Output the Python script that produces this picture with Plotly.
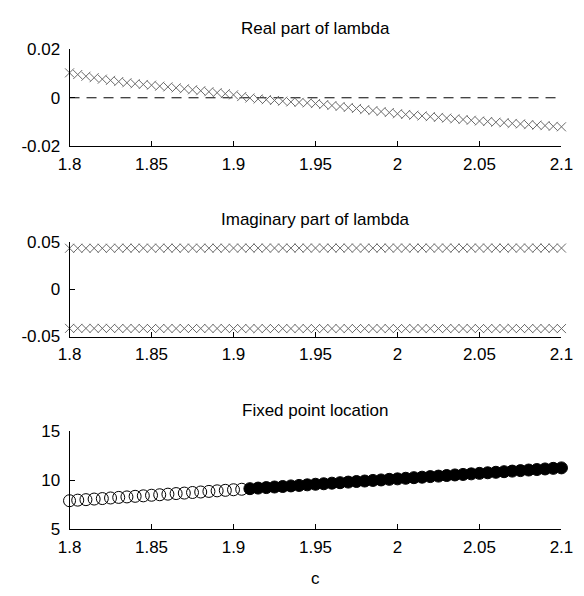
import plotly.graph_objects as go

c_vals = [1.800, 1.805, 1.810, 1.815, 1.820, 1.825, 1.830, 1.835, 1.840, 1.845,
          1.850, 1.855, 1.860, 1.865, 1.870, 1.875, 1.880, 1.885, 1.890, 1.895,
          1.900, 1.905, 1.910, 1.915, 1.920, 1.925, 1.930, 1.935, 1.940, 1.945,
          1.950, 1.955, 1.960, 1.965, 1.970, 1.975, 1.980, 1.985, 1.990, 1.995,
          2.000, 2.005, 2.010, 2.015, 2.020, 2.025, 2.030, 2.035, 2.040, 2.045,
          2.050, 2.055, 2.060, 2.065, 2.070, 2.075, 2.080, 2.085, 2.090, 2.095,
          2.100]

real_lambda = [0.0103, 0.0096, 0.0089, 0.0083, 0.0077, 0.0072, 0.0067, 0.0062, 0.0058, 0.0055,
               0.0052, 0.0048, 0.0045, 0.0041, 0.0037, 0.0033, 0.0029, 0.0025, 0.0021, 0.0017,
               0.0012, 0.0005, -0.0001, -0.0005, -0.0008, -0.0011, -0.0014, -0.0017, -0.0019, -0.0021,
               -0.0024, -0.0028, -0.0032, -0.0036, -0.0040, -0.0044, -0.0049, -0.0053, -0.0057, -0.0061,
               -0.0066, -0.0069, -0.0072, -0.0075, -0.0078, -0.0081, -0.0084, -0.0087, -0.0090, -0.0093,
               -0.0096, -0.0098, -0.0101, -0.0103, -0.0106, -0.0108, -0.0111, -0.0113, -0.0115, -0.0118,
               -0.0120]

imag_upper = [0.0434, 0.0434, 0.0434, 0.0434, 0.0434, 0.0434, 0.0435, 0.0435, 0.0435, 0.0435,
              0.0435, 0.0435, 0.0435, 0.0435, 0.0435, 0.0435, 0.0435, 0.0435, 0.0435, 0.0435,
              0.0436, 0.0436, 0.0436, 0.0436, 0.0436, 0.0436, 0.0436, 0.0436, 0.0436, 0.0436,
              0.0436, 0.0436, 0.0436, 0.0436, 0.0436, 0.0436, 0.0436, 0.0436, 0.0436, 0.0436,
              0.0436, 0.0436, 0.0436, 0.0436, 0.0436, 0.0436, 0.0436, 0.0436, 0.0436, 0.0436,
              0.0436, 0.0436, 0.0436, 0.0436, 0.0436, 0.0436, 0.0436, 0.0436, 0.0436, 0.0436,
              0.0436]
imag_lower = [-0.0414, -0.0414, -0.0414, -0.0414, -0.0414, -0.0414, -0.0415, -0.0415, -0.0415, -0.0415,
              -0.0415, -0.0415, -0.0415, -0.0415, -0.0415, -0.0415, -0.0415, -0.0415, -0.0415, -0.0415,
              -0.0416, -0.0416, -0.0416, -0.0416, -0.0416, -0.0416, -0.0416, -0.0416, -0.0416, -0.0416,
              -0.0416, -0.0416, -0.0416, -0.0416, -0.0416, -0.0416, -0.0416, -0.0416, -0.0416, -0.0416,
              -0.0416, -0.0416, -0.0416, -0.0416, -0.0416, -0.0416, -0.0416, -0.0416, -0.0416, -0.0416,
              -0.0416, -0.0416, -0.0416, -0.0416, -0.0416, -0.0416, -0.0416, -0.0416, -0.0416, -0.0416,
              -0.0416]

fixed_point = [7.90, 7.96, 8.01, 8.07, 8.12, 8.18, 8.24, 8.29, 8.35, 8.40,
               8.46, 8.51, 8.57, 8.63, 8.68, 8.74, 8.79, 8.85, 8.91, 8.96,
               9.02, 9.07, 9.13, 9.19, 9.24, 9.30, 9.35, 9.41, 9.46, 9.52,
               9.58, 9.63, 9.69, 9.74, 9.80, 9.86, 9.91, 9.97, 10.02, 10.08,
               10.13, 10.19, 10.25, 10.30, 10.36, 10.41, 10.47, 10.53, 10.58, 10.64,
               10.69, 10.75, 10.80, 10.86, 10.92, 10.97, 11.03, 11.08, 11.14, 11.20,
               11.25]
n_unstable = 22  # first points plotted as open circles

x_ticks = [1.8, 1.85, 1.9, 1.95, 2.0, 2.05, 2.1]
x_ticktext = ["1.8", "1.85", "1.9", "1.95", "2", "2.05", "2.1"]
titles = ["Real part of lambda", "Imaginary part of lambda", "Fixed point location"]
y_ticks = [[-0.02, 0, 0.02], [-0.05, 0, 0.05], [5, 10, 15]]
y_ticktext = [["-0.02", "0", "0.02"], ["-0.05", "0", "0.05"], ["5", "10", "15"]]
y_ranges = [[-0.02, 0.02], [-0.05, 0.05], [5, 15]]

FONT = "Liberation Sans, Arial, sans-serif"
FS = 17
W, H = 584, 596

fig = go.Figure()

xmark = dict(symbol="x-thin", size=9, line=dict(color="#6a6a6a", width=1))

# panel 1
fig.add_trace(go.Scatter(x=[c_vals[0], c_vals[-1]], y=[0, 0], mode="lines",
                         line=dict(color="black", width=1, dash="10px,7px"),
                         xaxis="x", yaxis="y", showlegend=False))
fig.add_trace(go.Scatter(x=c_vals, y=real_lambda, mode="markers", marker=xmark,
                         xaxis="x", yaxis="y", showlegend=False, cliponaxis=False))
# panel 2
fig.add_trace(go.Scatter(x=c_vals, y=imag_upper, mode="markers", marker=xmark,
                         xaxis="x2", yaxis="y2", showlegend=False, cliponaxis=False))
fig.add_trace(go.Scatter(x=c_vals, y=imag_lower, mode="markers", marker=xmark,
                         xaxis="x2", yaxis="y2", showlegend=False, cliponaxis=False))
# panel 3
fig.add_trace(go.Scatter(x=c_vals[:n_unstable], y=fixed_point[:n_unstable], mode="markers",
                         marker=dict(symbol="circle-open", size=12, color="black",
                                     line=dict(color="black", width=1)),
                         xaxis="x3", yaxis="y3", showlegend=False, cliponaxis=False))
fig.add_trace(go.Scatter(x=c_vals[n_unstable:], y=fixed_point[n_unstable:], mode="markers",
                         marker=dict(symbol="circle", size=12, color="black",
                                     line=dict(color="black", width=1)),
                         xaxis="x3", yaxis="y3", showlegend=False, cliponaxis=False))

# pixel layout (top, bottom) of each plot area
panels_px = [(41.7, 141.7), (240.7, 338.3), (436.0, 537.3)]
title_px = [20.0, 217.0, 415.0]
x0_px, x1_px = 60.0, 573.0

layout = dict(width=W, height=H, margin=dict(l=0, r=0, t=0, b=0),
              paper_bgcolor="white", plot_bgcolor="white",
              font=dict(family=FONT, size=FS, color="black"))

annotations = []
for i, (top, bot) in enumerate(panels_px):
    sfx = "" if i == 0 else str(i + 1)
    layout["xaxis" + sfx] = dict(
        domain=[x0_px / W, x1_px / W], range=[1.8, 2.1], anchor="y" + sfx,
        showline=True, linecolor="black", linewidth=1, mirror=False,
        ticks="inside", ticklen=5, tickcolor="black", tickwidth=1,
        tickvals=x_ticks, ticktext=x_ticktext, showgrid=False, zeroline=False,
        ticklabeloverflow="allow", ticklabelstandoff=2,
        tickfont=dict(family=FONT, size=FS, color="black"))
    layout["yaxis" + sfx] = dict(
        domain=[1 - bot / H, 1 - top / H], range=y_ranges[i], anchor="x" + sfx,
        showline=True, linecolor="black", linewidth=1, mirror=False,
        ticks="inside", ticklen=5, tickcolor="black", tickwidth=1,
        tickvals=y_ticks[i], ticktext=y_ticktext[i], showgrid=False, zeroline=False,
        ticklabeloverflow="allow", ticklabelstandoff=5,
        tickfont=dict(family=FONT, size=FS, color="black"))
    annotations.append(dict(text=titles[i], x=(x0_px + x1_px) / 2 / W, y=1 - title_px[i] / H,
                            xref="paper", yref="paper", showarrow=False,
                            xanchor="center", yanchor="middle",
                            font=dict(family=FONT, size=FS, color="black")))

annotations.append(dict(text="c", x=(x0_px + x1_px) / 2 / W, y=1 - 588 / H,
                        xref="paper", yref="paper", showarrow=False,
                        xanchor="center", yanchor="middle",
                        font=dict(family=FONT, size=FS, color="black")))
layout["annotations"] = annotations
fig.update_layout(**layout)

fig.write_html("out.html")
